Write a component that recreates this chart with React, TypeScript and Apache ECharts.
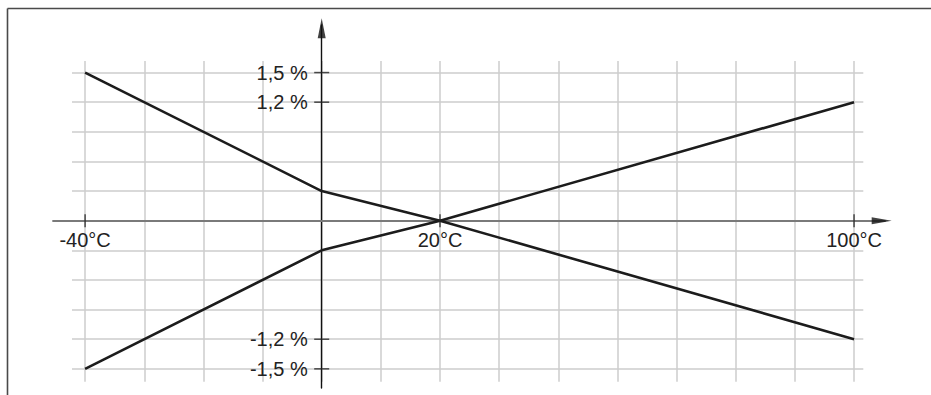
import { useEffect, useRef } from 'react';
import * as echarts from 'echarts';

// Schematic grid units: one x unit = one grid cell, the y axis sits at x = 0.
const xPositions = [-4, 0, 2, 9]; // -40°C, 0°C, 20°C, 100°C
const upperLine = [5, 1, 0, -4];
const lowerLine = [-5, -1, 0, 4];
const xLabelUnits = [-4, 2, 9];
const xLabelTexts = ['-40°C', '20°C', '100°C'];
const yLabelUnits = [5, 4, -4, -5];
const yLabelTexts = ['1,5 %', '1,2 %', '-1,2 %', '-1,5 %'];
const gridXRange = [-4, 9];
const gridYRange = [-5, 5];

// layout (pixels)
const W = 931;
const H = 395;
const OX = 321.7;
const SX = 59.15;
const OY = 220.7;
const SY = 29.63;
const FONT = "'Liberation Sans', Arial, Helvetica, sans-serif";

export default function App() {
  const ref = useRef<HTMLDivElement>(null);
  useEffect(() => {
    if (!ref.current) return;
    const chart = echarts.init(ref.current, undefined, { renderer: 'svg' });

    const mainLeft = 53;
    const mainRight = 885;
    const mainTop = 25;
    const mainBottom = 388;

    const off = { show: false };
    const gridLineStyle = { color: '#cdcdcd', width: 1.5 };

    const xLabelMap: Record<number, string> = {};
    xLabelUnits.forEach((u, i) => (xLabelMap[u] = xLabelTexts[i]));
    const yLabelMap: Record<number, string> = {};
    yLabelUnits.forEach((v, i) => (yLabelMap[v] = yLabelTexts[i]));

    const option: any = {
      animation: false,
      backgroundColor: '#ffffff',
      grid: [
        {
          // horizontal grid lines
          left: 72,
          right: W - 863.3,
          top: OY - gridYRange[1] * SY,
          bottom: H - (OY - gridYRange[0] * SY),
          outerBoundsMode: 'none',
        },
        {
          // vertical grid lines
          left: OX + gridXRange[0] * SX,
          right: W - (OX + gridXRange[1] * SX),
          top: 61,
          bottom: H - 381.7,
          outerBoundsMode: 'none',
        },
        {
          // main plotting area
          left: mainLeft,
          right: W - mainRight,
          top: mainTop,
          bottom: H - mainBottom,
          outerBoundsMode: 'none',
        },
      ],
      xAxis: [
        {
          gridIndex: 0,
          type: 'value',
          min: 0,
          max: 1,
          axisLine: off,
          axisTick: off,
          axisLabel: off,
          splitLine: off,
        },
        {
          gridIndex: 1,
          type: 'value',
          min: gridXRange[0],
          max: gridXRange[1],
          interval: 1,
          axisLine: off,
          axisTick: off,
          axisLabel: off,
          splitLine: { show: true, lineStyle: gridLineStyle },
        },
        {
          gridIndex: 2,
          type: 'value',
          position: 'bottom',
          offset: -(mainBottom - OY),
          min: (mainLeft - OX) / SX,
          max: (mainRight - OX) / SX,
          z: 2,
          axisLine: { show: true, onZero: false, lineStyle: { color: '#7a7a7a', width: 1.8 } },
          axisTick: off,
          splitLine: off,
          axisLabel: {
            show: true,
            customValues: xLabelUnits,
            formatter: (v: number) => xLabelMap[Math.round(v)] ?? '',
            margin: 9,
            fontSize: 20,
            fontFamily: FONT,
            color: '#222222',
          },
        },
      ],
      yAxis: [
        {
          gridIndex: 0,
          type: 'value',
          min: gridYRange[0],
          max: gridYRange[1],
          interval: 1,
          axisLine: off,
          axisTick: off,
          axisLabel: off,
          splitLine: { show: true, lineStyle: gridLineStyle },
        },
        {
          gridIndex: 1,
          type: 'value',
          min: 0,
          max: 1,
          axisLine: off,
          axisTick: off,
          axisLabel: off,
          splitLine: off,
        },
        {
          gridIndex: 2,
          type: 'value',
          position: 'left',
          offset: -(OX - mainLeft),
          min: (OY - mainBottom) / SY,
          max: (OY - mainTop) / SY,
          z: 2,
          axisLine: { show: true, onZero: false, lineStyle: { color: '#111111', width: 1.4 } },
          axisTick: off,
          splitLine: off,
          axisLabel: {
            show: true,
            customValues: yLabelUnits,
            formatter: (v: number) => yLabelMap[Math.round(v)] ?? '',
            margin: 14,
            fontSize: 20,
            fontFamily: FONT,
            color: '#222222',
          },
        },
      ],
      series: [
        {
          type: 'line',
          xAxisIndex: 2,
          yAxisIndex: 2,
          z: 3,
          symbol: 'none',
          lineStyle: { color: '#1c1c1c', width: 2.6 },
          data: xPositions.map((x, i) => [x, upperLine[i]]),
        },
        {
          type: 'line',
          xAxisIndex: 2,
          yAxisIndex: 2,
          z: 3,
          symbol: 'none',
          lineStyle: { color: '#1c1c1c', width: 2.6 },
          data: xPositions.map((x, i) => [x, lowerLine[i]]),
        },
        {
          // x axis tick marks
          type: 'scatter',
          xAxisIndex: 2,
          yAxisIndex: 2,
          z: 4,
          clip: false,
          symbol: 'rect',
          symbolSize: [1.5, 13],
          itemStyle: { color: '#222222' },
          data: xLabelUnits.map((u) => [u, 0]),
        },
        {
          // y axis tick marks
          type: 'scatter',
          xAxisIndex: 2,
          yAxisIndex: 2,
          z: 4,
          clip: false,
          symbol: 'rect',
          symbolSize: [15, 1.5],
          itemStyle: { color: '#222222' },
          data: yLabelUnits.map((v) => [0, v]),
        },
        {
          // axis arrows
          type: 'scatter',
          xAxisIndex: 2,
          yAxisIndex: 2,
          z: 4,
          clip: false,
          symbol: 'triangle',
          itemStyle: { color: '#111111' },
          data: [
            { value: [0, (OY - 28.3) / SY], symbolSize: [8, 20], symbolRotate: 0 },
            { value: [(881.7 - OX) / SX, 0], symbolSize: [7, 20], symbolRotate: -90 },
          ],
        },
      ],
      graphic: [
        {
          type: 'line',
          shape: { x1: 7.5, y1: 8.5, x2: W, y2: 8.5 },
          style: { stroke: '#4a4a4a', lineWidth: 1.6 },
        },
        {
          type: 'line',
          shape: { x1: 7.5, y1: 8.5, x2: 7.5, y2: H },
          style: { stroke: '#4a4a4a', lineWidth: 1.6 },
        },
      ],
    };

    chart.setOption(option);
    return () => chart.dispose();
  }, []);

  return (
    <div
      ref={ref}
      style={{ position: 'absolute', left: 0, top: 0, width: W, height: H, background: '#fff' }}
    />
  );
}
